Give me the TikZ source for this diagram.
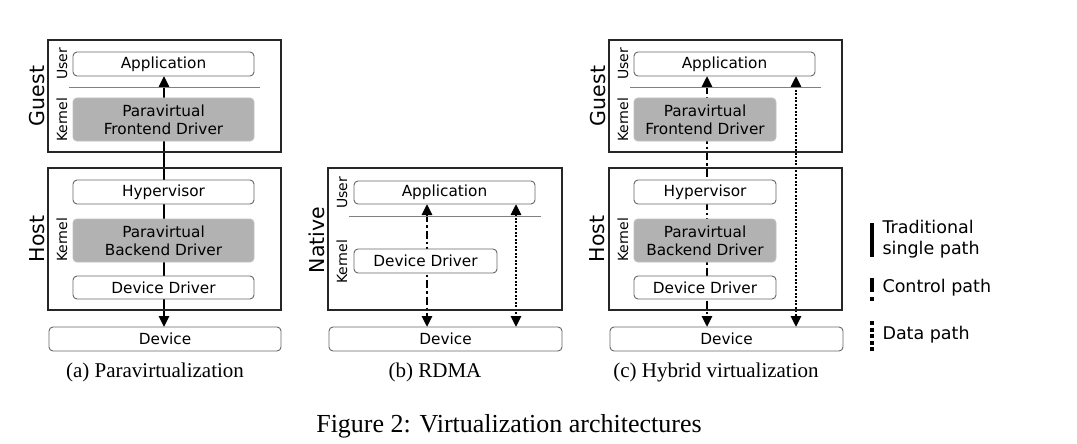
\documentclass[tikz,border=0pt]{standalone}
\usepackage{fontspec}
\setmainfont{DejaVu Sans}
\newfontfamily\capfont{Liberation Serif}
\usetikzlibrary{arrows.meta,backgrounds}
\begin{document}
\begin{tikzpicture}[x=1pt,y=-1pt,
 frame/.style={draw=black!85, line width=1.3pt, inner sep=0pt, outer sep=0pt},
 nbox/.style={draw=black!60, fill=white, rounded corners=4pt, line width=0.9pt, inner sep=0pt, outer sep=0pt, align=center, font=\fontsize{15.3}{18.3}\selectfont},
 gbox/.style={nbox, draw=black!25, fill=black!30},
 side/.style={rotate=90, font=\fontsize{20.5}{24}\selectfont},
 small/.style={rotate=90, font=\fontsize{14}{16}\selectfont},
 sepline/.style={draw=black!50, line width=1pt},
 tipboth/.style={{Triangle[length=11pt,width=10pt]}-{Triangle[length=11pt,width=10pt]}},
 solidp/.style={line width=2.6pt, tipboth},
 ctrlp/.style={line width=2.6pt, dash pattern=on 8pt off 3pt on 2.5pt off 3pt, tipboth},
 datap/.style={line width=2.6pt, dash pattern=on 2pt off 1.5pt, tipboth},
 capt/.style={font=\capfont\fontsize{21}{24}\selectfont},
 legtext/.style={anchor=west, align=left, font=\fontsize{17.5}{21}\selectfont}
]
\useasboundingbox (0,0) rectangle (1077,444);

% ---------- (a) Paravirtualization ----------
\node[frame, minimum width=233pt, minimum height=112pt] (guestA) at (164.5,96) {};
\node[frame, minimum width=233pt, minimum height=142pt] (hostA) at (164.5,239) {};
\node[nbox, minimum width=181pt, minimum height=24pt] (appA) at (163.5,64) {Application};
\draw[sepline] (69,88) -- (260,88);
\node[gbox, minimum width=181pt, minimum height=43pt] (frontA) at (163.5,119.5) {Paravirtual\\Frontend Driver};
\node[nbox, minimum width=181pt, minimum height=24pt] (hypA) at (163.5,192) {Hypervisor};
\node[gbox, minimum width=181pt, minimum height=43pt] (backA) at (163.5,240.5) {Paravirtual\\Backend Driver};
\node[nbox, minimum width=181pt, minimum height=23pt] (ddA) at (163.5,287.5) {Device Driver};
\node[nbox, minimum width=232pt, minimum height=24pt] (devA) at (165,339) {Device};
\node[side] (gA) at (37,96) {Guest};
\node[side] (hA) at (37,239) {Host};
\node[small] (uA) at (62,64) {User};
\node[small] (kgA) at (62,120) {Kernel};
\node[small] (khA) at (62,240) {Kernel};
\coordinate (xa) at (164,0);

% ---------- (b) RDMA ----------
\node[frame, minimum width=234pt, minimum height=142pt] (natB) at (445,239) {};
\node[nbox, minimum width=181pt, minimum height=23pt] (appB) at (444.5,192.5) {Application};
\draw[sepline] (349,216) -- (541,216);
\node[nbox, minimum width=143pt, minimum height=24pt] (ddB) at (425.5,261) {Device Driver};
\node[nbox, minimum width=233pt, minimum height=24pt] (devB) at (445.5,339) {Device};
\node[side] (nB) at (317,240) {Native};
\node[small] (uB) at (342,193) {User};
\node[small] (kB) at (342,262) {Kernel};
\coordinate (xb1) at (427,0);
\coordinate (xb2) at (516,0);

% ---------- (c) Hybrid virtualization ----------
\node[frame, minimum width=233pt, minimum height=112pt] (guestC) at (725.5,96) {};
\node[frame, minimum width=233pt, minimum height=142pt] (hostC) at (725.5,239) {};
\node[nbox, minimum width=181pt, minimum height=24pt] (appC) at (724.5,64) {Application};
\draw[sepline] (630,88) -- (821,88);
\node[gbox, minimum width=142pt, minimum height=43pt] (frontC) at (705,119.5) {Paravirtual\\Frontend Driver};
\node[nbox, minimum width=142pt, minimum height=24pt] (hypC) at (705,192) {Hypervisor};
\node[gbox, minimum width=142pt, minimum height=43pt] (backC) at (705,240.5) {Paravirtual\\Backend Driver};
\node[nbox, minimum width=142pt, minimum height=23pt] (ddC) at (705,287.5) {Device Driver};
\node[nbox, minimum width=233pt, minimum height=24pt] (devC) at (726.5,339) {Device};
\node[side] (gC) at (598,96) {Guest};
\node[side] (hC) at (597,239) {Host};
\node[small] (uC) at (623,64) {User};
\node[small] (kgC) at (623,120) {Kernel};
\node[small] (khC) at (623,240) {Kernel};
\coordinate (xc1) at (707,0);
\coordinate (xc2) at (796,0);

% ---------- connectors (behind the boxes) ----------
\begin{pgfonlayer}{background}
\draw[solidp] (appA.south -| xa) -- (devA.north -| xa);
\draw[ctrlp] (appB.south -| xb1) -- (devB.north -| xb1);
\draw[datap] (appB.south -| xb2) -- (devB.north -| xb2);
\draw[ctrlp] (appC.south -| xc1) -- (devC.north -| xc1);
\draw[datap] (appC.south -| xc2) -- (devC.north -| xc2);
\end{pgfonlayer}

% ---------- legend ----------
\coordinate (l1a) at (872,223); \coordinate (l1b) at (872,257);
\coordinate (l2a) at (872,278); \coordinate (l2b) at (872,301);
\coordinate (l3a) at (872,321); \coordinate (l3b) at (872,352);
\draw[line width=3.8pt] (l1a) -- (l1b);
\draw[line width=3.8pt, dash pattern=on 14pt off 5pt on 4pt] (l2a) -- (l2b);
\draw[line width=3.8pt, dash pattern=on 4pt off 2.5pt] (l3a) -- (l3b);
\node[legtext] (t1) at (879,239.5) {Traditional\\single path};
\node[legtext] (t2) at (879,288) {Control path};
\node[legtext] (t3) at (879,335) {Data path};

% ---------- captions ----------
\node[capt] (ca) at (155,372) {(a) Paravirtualization};
\node[capt] (cb) at (435,372) {(b) RDMA};
\node[capt] (cc) at (716,372) {(c) Hybrid virtualization};
\node[font=\capfont\fontsize{26}{30}\selectfont] (fig) at (509,426) {Figure 2: Virtualization architectures};
\end{tikzpicture}
\end{document}
